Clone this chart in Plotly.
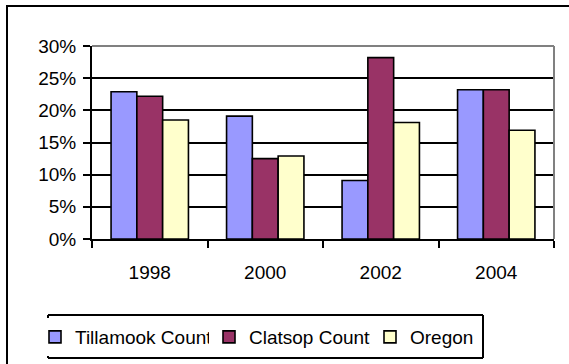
import plotly.graph_objects as go

years = ["1998", "2000", "2002", "2004"]
tillamook = [22.9, 19.1, 9.1, 23.2]
clatsop = [22.2, 12.5, 28.2, 23.2]
oregon = [18.5, 12.9, 18.1, 16.9]
y_ticks = [0, 5, 10, 15, 20, 25, 30]
y_tick_text = [f"{v}%" for v in y_ticks]

# name, values, fill colour, legend id, legend left edge (px)
series = [
    ("Tillamook County", tillamook, "#9999FF", "legend", 35),
    ("Clatsop County", clatsop, "#993366", "legend2", 209),
    ("Oregon", oregon, "#FFFFCC", "legend3", 370),
]

FONT = "Arial"
FS = 19

# plot area: left 92, right 554, top 46, bottom 239 (px)
L, R, T, B = 92, 554, 46, 239
W, H = 569, 364
pw, ph = R - L, B - T

def px(x):
    return (x - L) / pw

def py(y):
    return (B - y) / ph

fig = go.Figure()
legends = {}
for name, vals, color, leg, lx in series:
    fig.add_trace(go.Bar(
        x=years, y=vals, name=name, legend=leg,
        marker=dict(color=color, line=dict(color="black", width=1.6)),
    ))
    legends[leg] = dict(
        orientation="h",
        xref="container", yref="container",
        x=lx / W, xanchor="left",
        y=1 - 337 / H, yanchor="middle",
        bgcolor="white", borderwidth=0,
        font=dict(family=FONT, size=FS, color="black"),
        itemwidth=30,
    )

# frame around the legend entries, as four separate edges
lx0, lx1, ly0, ly1 = 48, 483, 315, 358
legend_frame = [
    dict(type="line", xref="paper", yref="paper", layer="above",
         x0=px(a), x1=px(b), y0=py(c), y1=py(d),
         line=dict(color="rgb(0,0,0)", width=2))
    for a, b, c, d in [
        (lx0, lx1, ly0, ly0),
        (lx0, lx1, ly1, ly1),
        (lx0, lx0, ly0, ly1),
        (lx1, lx1, ly0, ly1),
    ]
]

fig.update_layout(
    width=W, height=H,
    margin=dict(l=L, r=W - R, t=T, b=H - B, pad=0, autoexpand=False),
    paper_bgcolor="white", plot_bgcolor="white",
    font=dict(family=FONT, size=FS, color="black"),
    barmode="group", bargap=0.33, bargroupgap=0,
    showlegend=True,
    **legends,
    xaxis=dict(
        type="category",
        showline=True, linecolor="black", linewidth=2,
        ticks="outside", tickson="boundaries", ticklen=7, tickwidth=2, tickcolor="black",
        tickfont=dict(family=FONT, size=FS, color="black"),
        ticklabelstandoff=15,
        showgrid=False, zeroline=False, automargin=False,
    ),
    yaxis=dict(
        range=[0, 30], tickmode="array", tickvals=y_ticks, ticktext=y_tick_text,
        showline=True, linecolor="black", linewidth=2,
        ticks="outside", ticklen=7, tickwidth=2, tickcolor="black",
        tickfont=dict(family=FONT, size=FS, color="black"),
        ticklabelstandoff=3,
        showgrid=True, gridcolor="black", gridwidth=1.6,
        zeroline=False, automargin=False,
    ),
    shapes=[
        # gray frame on top and right of the plot area
        dict(type="line", xref="paper", yref="paper", x0=0, x1=1, y0=1, y1=1,
             line=dict(color="#808080", width=2)),
        dict(type="line", xref="paper", yref="paper", x0=1, x1=1, y0=0, y1=1,
             line=dict(color="#808080", width=2)),
        # outer chart border
        dict(type="rect", xref="paper", yref="paper",
             x0=px(7), x1=px(575), y0=py(6), y1=py(372),
             line=dict(color="black", width=2), fillcolor="rgba(0,0,0,0)"),
    ] + legend_frame,
)

fig.write_html("out.html")
